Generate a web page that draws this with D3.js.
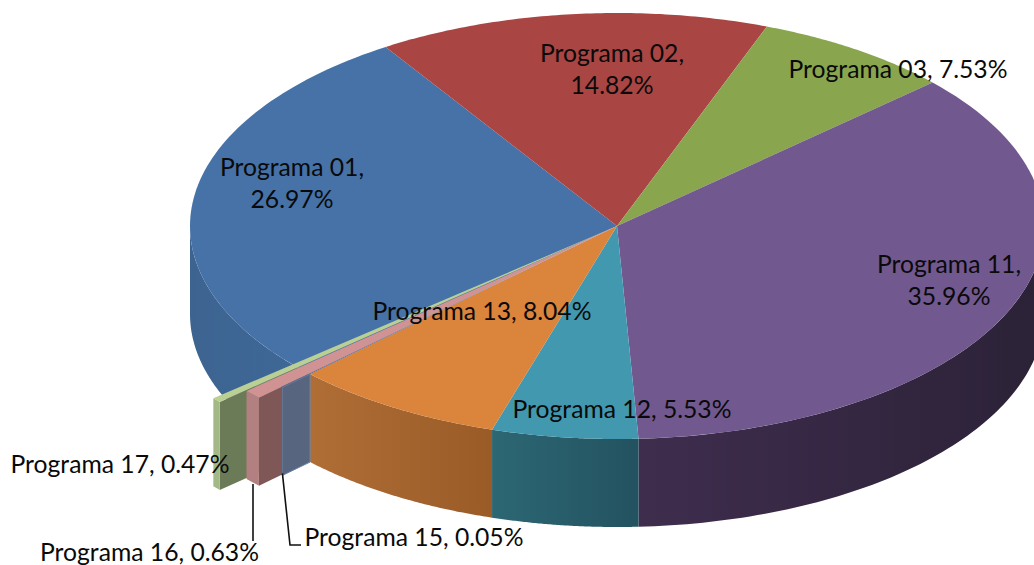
<!DOCTYPE html>
<html><head><meta charset="utf-8">
<script src="https://cdn.jsdelivr.net/npm/d3@7/dist/d3.min.js"></script>
<style>html,body{margin:0;padding:0;background:#fff}svg{display:block}</style>
</head><body><div id="c"></div>
<script>
const categories = ["Programa 01","Programa 02","Programa 03","Programa 11","Programa 12","Programa 13","Programa 15","Programa 16","Programa 17"];
const values = [26.97,14.82,7.53,35.96,5.53,8.04,0.05,0.63,0.47];
const explode = [1,1,1,1,1,1,1.09,1.163,1.244];
const sweepScale = [1,1,1,1,1,1,1,0.93,0.62];
const topColors = ["#4672a8","#a94543","#89a54e","#71588f","#4198af","#da843c","#5d6f92","#d09292","#b9cf93"];
const wallFrom = ["#3d6491","#7a302e","#63783a","#3f2d4e","#2d6774","#b06e36","#57657f","#b28080","#a3b985"];
const wallTo = ["#3f6897","#7a302e","#63783a","#2b2237","#235260","#9a5b27","#57657f","#b28080","#a3b985"];
const radialColors = [null,null,null,null,null,null,"#57657f","#7f5757","#6b7a57"];
const labelLines = [["Programa 01,","26.97%"],["Programa 02,","14.82%"],["Programa 03, 7.53%"],["Programa 11,","35.96%"],["Programa 12, 5.53%"],["Programa 13, 8.04%"],["Programa 15, 0.05%"],["Programa 16, 0.63%"],["Programa 17, 0.47%"]];
const labelCx = [292,612,898,949,622,482,414,149.5,120];
const labelTop = [176,62,78,273,418,320,546,561,473];

const W=1034,H=565,cx=617,cy=226,rx=427,ry=213,depth=88,lh=32;
const svg=d3.select("#c").append("svg").attr("width",W).attr("height",H);
const defs=svg.append("defs");
const startDeg=230.1;
const underlap=0.04;
const arcs=d3.pie().sort(null).startAngle(startDeg*Math.PI/180).endAngle((startDeg+360)*Math.PI/180)(values);
const X=d3.scaleLinear().domain([-1,1]).range([cx-rx,cx+rx]);
const Y=d3.scaleLinear().domain([-1,1]).range([cy-ry,cy+ry]);
const pt=(a,f,dy=0)=>[X(f*Math.sin(a)),Y(-f*Math.cos(a))+dy];
const line=d3.line();
const sample=(a0,a1,n=80)=>d3.range(n+1).map(i=>a0+(a1-a0)*i/n);
const topPath=(a0,a1,f)=>line([[cx,cy],...sample(a0,a1).map(a=>pt(a,f))])+"Z";
const wallPath=(a0,a1,f)=>{const s=sample(a0,a1);return line([...s.map(a=>pt(a,f)),...s.slice().reverse().map(a=>pt(a,f,depth))])+"Z";};
const frontRange=(a0,a1)=>{
  const lo=Math.PI/2,hi=3*Math.PI/2,r=[];
  for(const k of [0,2*Math.PI]){const s=Math.max(a0,lo+k),e=Math.min(a1,hi+k);if(e>s)r.push([s,e]);}
  return r;
};
const gradFor=(i,x0,x1)=>{
  const g=defs.append("linearGradient").attr("id","g"+i).attr("gradientUnits","userSpaceOnUse")
    .attr("x1",x0).attr("x2",x1).attr("y1",0).attr("y2",0);
  g.append("stop").attr("offset",0).attr("stop-color",wallFrom[i]);
  g.append("stop").attr("offset",1).attr("stop-color",wallTo[i]);
  return `url(#g${i})`;
};
const gMain=svg.append("g");
const main=arcs.map((d,i)=>({d,i})).filter(o=>explode[o.i]===1);
const small=arcs.map((d,i)=>({d,i})).filter(o=>explode[o.i]!==1).reverse();
const startOf=o=>o.d.startAngle-(o.i===0?underlap:0);
main.forEach(o=>{
  frontRange(startOf(o),o.d.endAngle).forEach(([s,e])=>{
    const xs=[pt(s,1)[0],pt(e,1)[0]];
    gMain.append("path").attr("d",wallPath(s,e,1)).attr("fill",gradFor(o.i,Math.min(...xs),Math.max(...xs)));
  });
});
gMain.selectAll("path.top").data(main).join("path").attr("class","top")
  .attr("d",o=>topPath(startOf(o),o.d.endAngle,1)).attr("fill",o=>topColors[o.i]);
small.forEach(({d,i})=>{
  const f=explode[i],end=d.startAngle+(d.endAngle-d.startAngle)*sweepScale[i];
  const p0=pt(d.startAngle,1),p1=pt(d.startAngle,f);
  gMain.append("path").attr("d",line([p0,p1,[p1[0],p1[1]+depth],[p0[0],p0[1]+depth]])+"Z")
    .attr("fill",radialColors[i]).attr("stroke",i===6?"#6a83a8":"none").attr("stroke-width",i===6?1:0);
  gMain.append("path").attr("d",wallPath(d.startAngle,end,f)).attr("fill",wallFrom[i]);
  gMain.append("path").attr("d",topPath(d.startAngle,end,f)).attr("fill",topColors[i]);
});
const anchor15=pt(arcs[6].startAngle,explode[6],depth);
const leader=d3.line();
svg.append("path").attr("d",leader([[253,484],[253,541]])).attr("fill","none").attr("stroke","#111").attr("stroke-width",1.6);
svg.append("path").attr("d",leader([[anchor15[0],anchor15[1]-2],[290,545],[301,545]])).attr("fill","none").attr("stroke","#111").attr("stroke-width",1.6);
const gT=svg.append("g").attr("font-family","Lato, 'Noto Sans', sans-serif").attr("font-size",24.7).attr("fill","#0a0a0a").attr("text-anchor","middle");
labelLines.forEach((ls,i)=>ls.forEach((t,k)=>gT.append("text").attr("x",labelCx[i]).attr("y",labelTop[i]+k*lh).text(t)));
</script></body></html>
